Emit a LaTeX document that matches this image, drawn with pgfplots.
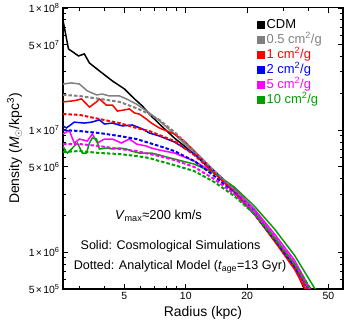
\documentclass[border=0pt]{standalone}
\usepackage{fontspec}
\setmainfont{Liberation Sans}
\usepackage{pgfplots}
\pgfplotsset{compat=1.18}
\definecolor{cgray}{RGB}{128,128,128}
\definecolor{cred}{RGB}{255,0,0}
\definecolor{cblue}{RGB}{0,0,255}
\definecolor{cmag}{RGB}{255,0,255}
\definecolor{cgreen}{RGB}{0,160,0}
\newcommand{\tl}[2]{#1\kern1.2bp×\kern1.2bp10\textsuperscript{#2}}

\begin{document}
\begin{tikzpicture}
\begin{axis}[
  name=ax,
  xmode=log, ymode=log,
  scale only axis, width=280bp, height=281bp,
  xmin=2.5, xmax=59, ymin=5e5, ymax=1e8,
  xtick={5,10,20,50}, xticklabels={5,10,20,50},
  minor xtick={3,4,6,7,8,9,30,40},
  ytick={5e5,1e6,5e6,1e7,5e7,1e8},
  yticklabels={\tl{5}{5},\tl{1}{6},\tl{5}{6},\tl{1}{7},\tl{5}{7},\tl{1}{8}},
  minor ytick={6e5,7e5,8e5,9e5,2e6,3e6,4e6,6e6,7e6,8e6,9e6,2e7,3e7,4e7,6e7,7e7,8e7,9e7},
  tick align=inside, major tick length=5bp, minor tick length=3bp,
  axis line style={line width=1.2bp}, tick style={line width=0.6bp, black},
  ticklabel style={font=\fontsize{10.5}{12}\selectfont},
  label style={font=\fontsize{14}{16}\selectfont},
  xlabel={Radius (kpc)},
  ylabel={Density (\textit{M}\textsubscript{$\odot$}/kpc\textsuperscript{3})},
  legend style={at={(0.680,0.973)}, anchor=north west, draw=none, fill=none,
    font=\fontsize{13}{15}\selectfont, row sep=0bp,
    nodes={text height=8.5bp, text depth=2.5bp, inner sep=2bp}},
  legend cell align=left,
  legend image code/.code={\fill[#1,solid] (0bp,-3.2bp) rectangle (6.5bp,3.2bp);},
  sol/.style={line width=1.5bp},
  dot/.style={line width=2bp, dash pattern=on 3.5bp off 2bp, forget plot},
]
% CDM
\addplot[sol, black] coordinates {(2.5,7.9e7) (2.66,4.61e7) (2.98,4.04e7) (3.18,4.20e7) (3.37,3.54e7) (3.77,3.05e7) (4.37,2.52e7) (5.00,2.17e7) (5.60,1.80e7) (6.13,1.57e7) (6.63,1.35e7) (7.42,1.12e7) (8.79,8.60e6) (11.0,6.36e6) (13.8,4.44e6) (17.3,3.16e6) (21.7,2.09e6) (27.2,1.28e6) (34.1,7.68e5) (38.5,4.79e5)};
\addlegendentry{\textcolor{black}{CDM}}
% 0.5
\addplot[sol, cgray] coordinates {(2.5,2.38e7) (2.75,2.43e7) (3.01,2.38e7) (3.29,2.09e7) (3.65,1.94e7) (3.90,1.97e7) (4.22,1.90e7) (4.73,1.90e7) (5.11,1.80e7) (5.73,1.63e7) (6.13,1.51e7) (6.63,1.38e7) (7.42,1.19e7) (8.79,9.27e6) (11.0,6.48e6) (13.8,4.53e6) (17.3,3.16e6) (21.7,2.09e6) (27.2,1.30e6) (34.1,7.82e5) (39.4,4.79e5)};
\addlegendentry{\textcolor{cgray}{0.5 cm\textsuperscript{2}/g}}
% 1
\addplot[sol, cred] coordinates {(2.5,1.70e7) (2.78,1.73e7) (2.94,1.76e7) (3.08,1.80e7) (3.37,1.54e7) (3.65,1.70e7) (3.77,1.80e7) (4.08,1.60e7) (4.37,1.60e7) (4.62,1.43e7) (5.00,1.46e7) (5.29,1.49e7) (5.60,1.38e7) (5.92,1.35e7) (6.41,1.23e7) (6.78,1.14e7) (7.42,1.04e7) (8.79,9.27e6) (9.84,8.12e6) (11.0,6.73e6) (13.8,4.61e6) (17.3,3.16e6) (21.7,2.05e6) (27.2,1.23e6) (34.1,7.26e5) (39.0,4.79e5)};
\addlegendentry{\textcolor{cred}{1 cm\textsuperscript{2}/g}}
% 2
\addplot[sol, cblue] coordinates {(2.5,1.08e7) (2.60,1.04e7) (2.84,1.16e7) (3.18,1.14e7) (3.45,1.16e7) (3.77,1.21e7) (3.99,1.12e7) (4.37,1.14e7) (4.89,1.08e7) (5.47,1.10e7) (6.13,1.02e7) (6.63,9.45e6) (7.42,8.93e6) (8.79,7.98e6) (11.0,6.36e6) (13.8,4.61e6) (17.3,3.28e6) (21.7,2.17e6) (27.2,1.33e6) (34.1,7.98e5) (40.4,4.79e5)};
\addlegendentry{\textcolor{cblue}{2 cm\textsuperscript{2}/g}}
% 5
\addplot[sol, cmag] coordinates {(2.5,9.27e6) (2.60,9.64e6) (2.69,9.81e6) (2.84,7.83e6) (3.01,8.44e6) (3.29,8.12e6) (3.48,9.27e6) (3.69,7.83e6) (3.99,8.44e6) (4.37,8.44e6) (4.83,7.83e6) (5.29,8.44e6) (5.73,7.68e6) (6.41,7.39e6) (6.78,7.12e6) (7.42,6.86e6) (8.79,6.48e6) (11.0,5.57e6) (13.8,4.44e6) (17.3,3.28e6) (21.7,2.25e6) (27.2,1.41e6) (34.1,8.60e5) (41.3,4.79e5)};
\addlegendentry{\textcolor{cmag}{5 cm\textsuperscript{2}/g}}
% 10
\addplot[sol, cgreen] coordinates {(2.5,7.39e6) (2.57,6.73e6) (2.63,6.48e6) (2.78,7.12e6) (2.94,7.83e6) (3.11,6.48e6) (3.26,6.48e6) (3.37,7.83e6) (3.48,8.60e6) (3.65,8.44e6) (3.77,6.99e6) (4.08,7.12e6) (4.37,6.99e6) (4.73,7.12e6) (5.11,6.99e6) (5.41,6.73e6) (5.92,6.48e6) (6.41,6.48e6) (6.78,6.48e6) (7.42,6.24e6) (8.79,5.78e6) (11.0,5.26e6) (13.8,4.44e6) (17.3,3.41e6) (21.7,2.38e6) (27.2,1.55e6) (34.1,9.44e5) (43.7,4.79e5)};
\addlegendentry{\textcolor{cgreen}{10 cm\textsuperscript{2}/g}}
% analytical models (dotted)
\addplot[dot, cgray] coordinates {(2.5,1.94e7) (3.01,1.90e7) (3.77,1.80e7) (4.73,1.70e7) (5.73,1.51e7) (6.63,1.35e7) (7.42,1.21e7) (8.79,9.64e6) (11.0,6.73e6) (13.8,4.61e6) (17.3,3.22e6) (21.7,2.13e6) (27.2,1.33e6) (34.1,7.98e5) (39.9,4.79e5)};
\addplot[dot, cred] coordinates {(2.5,1.35e7) (3.01,1.33e7) (3.77,1.23e7) (4.73,1.14e7) (5.73,1.04e7) (6.63,9.81e6) (7.42,9.10e6) (8.79,8.12e6) (11.0,6.24e6) (13.8,4.44e6) (17.3,3.10e6) (21.7,2.05e6) (27.2,1.25e6) (34.1,7.53e5) (39.9,4.79e5)};
\addplot[dot, cblue] coordinates {(2.5,1.00e7) (3.01,9.81e6) (3.77,9.45e6) (4.73,8.93e6) (5.73,8.44e6) (6.63,7.83e6) (7.42,7.39e6) (8.79,6.73e6) (11.0,5.57e6) (13.8,4.20e6) (17.3,3.05e6) (21.7,2.05e6) (27.2,1.28e6) (34.1,7.68e5) (40.8,4.79e5)};
\addplot[dot, cmag] coordinates {(2.5,7.68e6) (3.01,7.68e6) (3.77,7.39e6) (4.73,6.99e6) (5.73,6.73e6) (6.63,6.36e6) (7.42,6.12e6) (8.79,5.68e6) (11.0,4.98e6) (13.8,3.96e6) (17.3,2.99e6) (21.7,2.09e6) (27.2,1.33e6) (34.1,8.13e5) (40.8,4.79e5)};
\addplot[dot, cgreen] coordinates {(2.5,6.61e6) (3.01,6.73e6) (3.77,6.48e6) (4.73,6.36e6) (5.73,6.12e6) (6.63,5.90e6) (7.42,5.57e6) (8.79,5.16e6) (11.0,4.61e6) (13.8,3.75e6) (17.3,2.88e6) (21.7,2.05e6) (27.2,1.30e6) (34.1,7.98e5) (41.7,4.79e5)};
% annotations
\node[font=\fontsize{13}{15}\selectfont] at (rel axis cs:0.341,0.260) {\textit{V}\textsubscript{max}≈200 km/s};
\node[font=\fontsize{12.6}{14}\selectfont] at (rel axis cs:0.384,0.153) {Solid: Cosmological Simulations};
\node[font=\fontsize{12.6}{14}\selectfont] at (rel axis cs:0.418,0.078) {Dotted: Analytical Model (\textit{t}\textsubscript{age}=13 Gyr)};
\end{axis}
\path (ax.south west) ++(-63bp,-41bp) rectangle ++(350bp,329bp);
\end{tikzpicture}
\end{document}
